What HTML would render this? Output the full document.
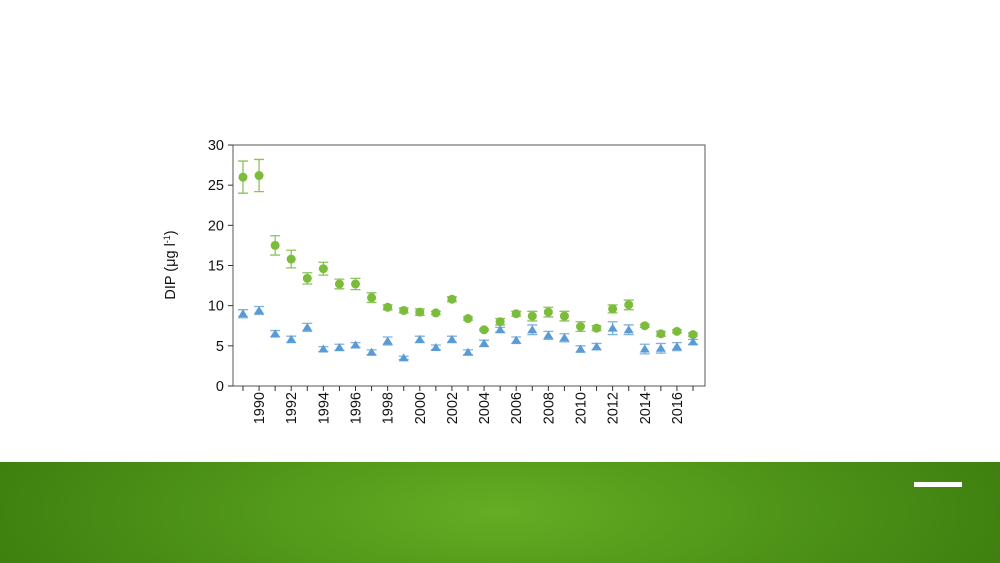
<!DOCTYPE html>
<html><head><meta charset="utf-8"><style>
body{margin:0;width:1000px;height:563px;overflow:hidden;background:#fff;font-family:"Liberation Sans",sans-serif}
#band{position:absolute;left:0;top:462px;width:1000px;height:101px;background:radial-gradient(ellipse 520px 160px at 500px 50px,#65ad24 0%,#4f9418 55%,#3f8010 100%)}
#bar{position:absolute;left:914px;top:482px;width:48px;height:5px;background:#fff}
svg{position:absolute;left:0;top:0}
</style></head><body>
<div id="band"></div>
<div id="bar"></div>
<svg id="chart" width="1000" height="563"></svg>
<script>
const years=[1989,1990,1991,1992,1993,1994,1995,1996,1997,1998,1999,2000,2001,2002,2003,2004,2005,2006,2007,2008,2009,2010,2011,2012,2013,2014,2015,2016,2017];
const greenVals=[26,26.2,17.5,15.8,13.4,14.6,12.7,12.7,11,9.8,9.4,9.2,9.1,10.8,8.4,7,8,9,8.7,9.2,8.7,7.4,7.2,9.6,10.1,7.5,6.5,6.8,6.4];
const greenErr=[2,2,1.2,1.1,0.7,0.8,0.6,0.7,0.6,0.3,0.3,0.4,0.2,0.3,0.2,0.1,0.4,0.3,0.6,0.6,0.6,0.6,0.3,0.5,0.6,0.2,0.3,0.2,0.2];
const blueVals=[9,9.4,6.5,5.8,7.3,4.6,4.8,5.1,4.2,5.6,3.5,5.8,4.8,5.8,4.2,5.3,7,5.7,7,6.3,6,4.6,4.9,7.2,7,4.6,4.7,4.9,5.5];
const blueErr=[0.5,0.5,0.4,0.4,0.5,0.3,0.4,0.3,0.3,0.5,0.2,0.4,0.3,0.4,0.3,0.4,0.3,0.4,0.6,0.5,0.5,0.4,0.4,0.8,0.6,0.6,0.6,0.5,0.3];
const yTicks=[0,5,10,15,20,25,30];
const xLabels=[1990,1992,1994,1996,1998,2000,2002,2004,2006,2008,2010,2012,2014,2016];
const svg=document.getElementById('chart'),NS='http://www.w3.org/2000/svg';
const X0=233,X1=705,Y0=386,Y1=145;
const xs=yr=>243+(yr-1989)*(693-243)/28;
const ys=v=>Y0-(v/30)*(Y0-Y1);
function mk(t,a){const e=document.createElementNS(NS,t);for(const k in a)e.setAttribute(k,a[k]);svg.appendChild(e);return e;}
let e=mk('rect',{x:X0,y:Y1,width:X1-X0,height:Y0-Y1,fill:'none',stroke:'#555','stroke-width':1});


yTicks.forEach(v=>{
 let t=mk('line',{x1:X0-5,x2:X0,y1:ys(v),y2:ys(v),stroke:'#333'});
 
 
 let l=mk('text',{x:X0-9,y:ys(v)+5,'text-anchor':'end','font-size':14.5,fill:'#111'});l.textContent=v;
 
 
});
years.forEach(yr=>{
 let t=mk('line',{x1:xs(yr),x2:xs(yr),y1:Y0,y2:Y0+5,stroke:'#333'});
 
 
});
xLabels.forEach(yr=>{
 let l=mk('text',{x:0,y:0,'text-anchor':'end','font-size':14.5,fill:'#111',transform:`translate(${xs(yr)+5},392) rotate(-90)`});l.textContent=yr;
 
 
});
let yl=mk('text',{x:0,y:0,'text-anchor':'middle','font-size':14.5,fill:'#111',transform:'translate(175,265) rotate(-90)'});
yl.innerHTML='DIP (μg l<tspan dy="-5" font-size="9">-1</tspan><tspan dy="5">)</tspan>';


function err(x,v,er,c){
 const a=ys(v+er),b=ys(v-er);
 let g=mk('path',{d:`M${x-5},${a}H${x+5}M${x},${a}V${b}M${x-5},${b}H${x+5}`,stroke:c,'stroke-width':1.3,fill:'none'});
 
 
}
years.forEach((yr,i)=>{
 const x=xs(yr);
 err(x,greenVals[i],greenErr[i],'#8cc35a');
 let c=mk('circle',{cx:x,cy:ys(greenVals[i]),r:4.5,fill:'#7cbc3c'});
 
 
 err(x,blueVals[i],blueErr[i],'#7fb3de');
 const y=ys(blueVals[i]);
 let p=mk('path',{d:`M${x},${y-4.5}L${x+5},${y+3.5}L${x-5},${y+3.5}Z`,fill:'#5b9bd5'});
 
 
});
</script>
</body></html>
